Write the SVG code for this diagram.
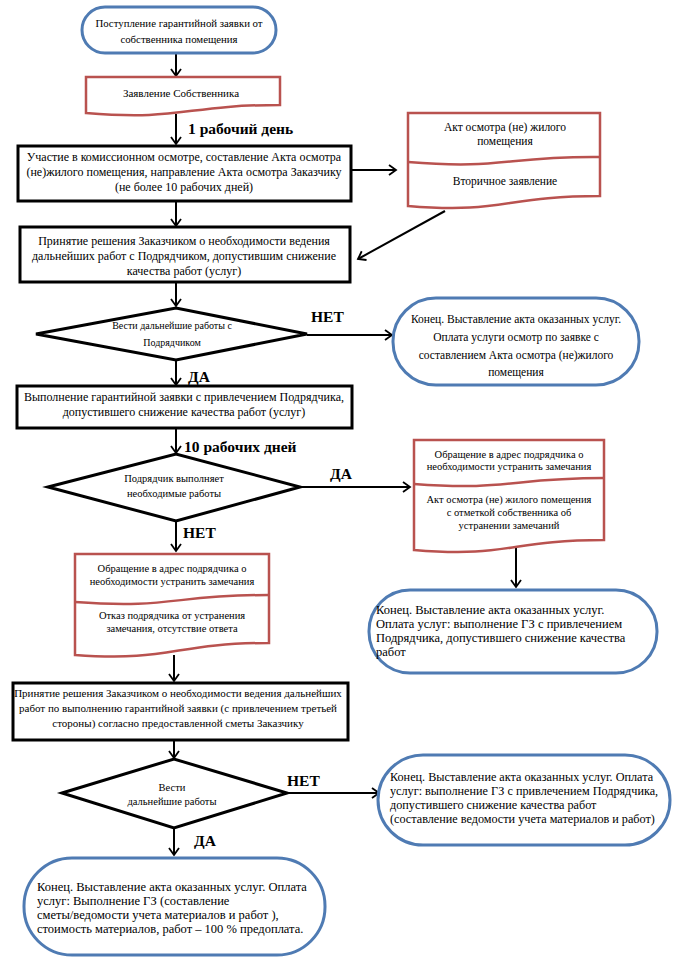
<svg xmlns="http://www.w3.org/2000/svg" width="686" height="967" viewBox="0 0 686 967">
<defs>
<marker id="ah" markerUnits="userSpaceOnUse" markerWidth="14" markerHeight="14" refX="8" refY="6" orient="auto">
<path d="M1,1 L8,6 L1,11" fill="none" stroke="#000" stroke-width="1.8"/>
</marker>
</defs>
<style>
text{font-family:"Liberation Serif","Times New Roman",serif;fill:#000}
.c{text-anchor:middle}
.b{font-weight:bold;font-size:15.5px}
.term{fill:#fff;stroke:#4f7bb3;stroke-width:3}
.doc{fill:#fff;stroke:#b9524f;stroke-width:2.5}
.box{fill:#fff;stroke:#000;stroke-width:3}
.dia{fill:#fff;stroke:#000;stroke-width:3}
.ln{fill:none;stroke:#000;stroke-width:2;marker-end:url(#ah)}
</style>
<rect width="686" height="967" fill="#fff"/>
<g id="connectors">
<line class="ln" x1="176" y1="53" x2="176" y2="76"/>
<line class="ln" x1="176" y1="114" x2="176" y2="144"/>
<line class="ln" x1="351" y1="170" x2="396" y2="170"/>
<line class="ln" x1="445" y1="211" x2="358" y2="259"/>
<line class="ln" x1="176" y1="201" x2="176" y2="226"/>
<line class="ln" x1="176" y1="282" x2="176" y2="306"/>
<line class="ln" x1="307" y1="335" x2="392" y2="335"/>
<line class="ln" x1="176" y1="361" x2="176" y2="385"/>
<line class="ln" x1="176" y1="428" x2="176" y2="453"/>
<line class="ln" x1="300" y1="487" x2="410" y2="487"/>
<line class="ln" x1="176" y1="521" x2="176" y2="551"/>
<line class="ln" x1="516" y1="548" x2="516" y2="587"/>
<line class="ln" x1="174" y1="655" x2="174" y2="681"/>
<line class="ln" x1="174" y1="740" x2="174" y2="758"/>
<line class="ln" x1="287" y1="793" x2="379" y2="793"/>
<line class="ln" x1="174" y1="828" x2="174" y2="855"/>
</g>
<g id="labels">
<text class="b" x="188" y="134">1 рабочий день</text>
<text class="b" x="311" y="322">НЕТ</text>
<text class="b" x="188" y="382">ДА</text>
<text class="b" x="184" y="452">10 рабочих дней</text>
<text class="b" x="330" y="479">ДА</text>
<text class="b" x="183" y="538">НЕТ</text>
<text class="b" x="287" y="786">НЕТ</text>
<text class="b" x="194" y="846">ДА</text>
</g>
<g id="n1">
<rect class="term" x="82" y="7" width="194" height="46" rx="23"/>
<text class="c" x="179" y="27" font-size="10.8">Поступление гарантийной заявки от</text>
<text class="c" x="179" y="43" font-size="10.8">собственника помещения</text>
</g>
<g id="n2">
<path class="doc" d="M86,77 H280 V105 C183,105 183,121 86,113 Z"/>
<text class="c" x="181" y="97" font-size="11">Заявление Собственника</text>
</g>
<g id="n3">
<rect class="box" x="18" y="146" width="333" height="55"/>
<text class="c" x="184" y="161" font-size="12">Участие в комиссионном осмотре, составление Акта осмотра</text>
<text class="c" x="184" y="176" font-size="12">(не)жилого помещения, направление Акта осмотра Заказчику</text>
<text class="c" x="184" y="191" font-size="12">(не более 10 рабочих дней)</text>
</g>
<g id="n4">
<path class="doc" d="M408,113 H600 V196 C504,196 504,214 408,206 Z"/>
<path class="doc" fill="none" d="M408,162 C504,170 504,156 600,157"/>
<text class="c" x="505" y="131" font-size="11.5">Акт осмотра (не) жилого</text>
<text class="c" x="505" y="145" font-size="11.5">помещения</text>
<text class="c" x="505" y="185" font-size="11.5">Вторичное заявление</text>
</g>
<g id="n5">
<rect class="box" x="20" y="227" width="330" height="55"/>
<text class="c" x="184" y="245" font-size="12">Принятие решения Заказчиком о необходимости ведения</text>
<text class="c" x="184" y="260" font-size="12">дальнейших работ с Подрядчиком, допустившим снижение</text>
<text class="c" x="184" y="275" font-size="12">качества работ (услуг)</text>
</g>
<g id="n6">
<polygon class="dia" points="36,334 176,308 307,334 176,360"/>
<text class="c" x="172" y="329" font-size="10">Вести дальнейшие работы с</text>
<text class="c" x="172" y="346" font-size="10">Подрядчиком</text>
</g>
<g id="n7">
<rect class="term" x="393" y="298" width="246" height="87" rx="43"/>
<text class="c" x="516" y="323" font-size="11.5">Конец. Выставление акта оказанных услуг.</text>
<text class="c" x="516" y="341" font-size="11.5">Оплата услуги осмотр по заявке с</text>
<text class="c" x="516" y="359" font-size="11.5">составлением Акта осмотра (не)жилого</text>
<text class="c" x="516" y="376" font-size="11.5">помещения</text>
</g>
<g id="n8">
<rect class="box" x="17" y="386" width="335" height="42"/>
<text class="c" x="184" y="401" font-size="12">Выполнение гарантийной заявки с привлечением Подрядчика,</text>
<text class="c" x="184" y="416" font-size="12">допустившего снижение качества работ (услуг)</text>
</g>
<g id="n9">
<polygon class="dia" points="48,487 176,454 300,487 176,521"/>
<text class="c" x="174" y="482" font-size="10.5">Подрядчик выполняет</text>
<text class="c" x="174" y="497" font-size="10.5">необходимые работы</text>
</g>
<g id="n10">
<path class="doc" d="M414,440 H604 V540 C509,540 509,558 414,550 Z"/>
<path class="doc" fill="none" d="M414,484 C509,491 509,478 604,478"/>
<text class="c" x="509" y="458" font-size="10.5">Обращение в адрес подрядчика о</text>
<text class="c" x="509" y="470" font-size="10.5">необходимости устранить замечания</text>
<text class="c" x="509" y="503" font-size="10.5">Акт осмотра (не) жилого помещения</text>
<text class="c" x="509" y="516" font-size="10.5">с отметкой собственника об</text>
<text class="c" x="509" y="529" font-size="10.5">устранении замечаний</text>
</g>
<g id="n11">
<rect class="term" x="369" y="590" width="288" height="83" rx="41"/>
<text x="376" y="614" font-size="12.5">Конец. Выставление акта оказанных услуг.</text>
<text x="376" y="628" font-size="12.5">Оплата услуг: выполнение ГЗ с привлечением</text>
<text x="376" y="642" font-size="12.5">Подрядчика, допустившего снижение качества</text>
<text x="376" y="656" font-size="12.5">работ</text>
</g>
<g id="n12">
<path class="doc" d="M75,554 H269 V643 C172,643 172,662 75,655 Z"/>
<path class="doc" fill="none" d="M75,602 C172,609 172,595 269,595"/>
<text class="c" x="172" y="572" font-size="10.5">Обращение в адрес подрядчика о</text>
<text class="c" x="172" y="585" font-size="10.5">необходимости устранить замечания</text>
<text class="c" x="172" y="619" font-size="10.5">Отказ подрядчика от устранения</text>
<text class="c" x="172" y="632" font-size="10.5">замечания, отсутствие ответа</text>
</g>
<g id="n13">
<rect class="box" x="13" y="683" width="335" height="57"/>
<text class="c" x="178" y="697" font-size="11">Принятие решения Заказчиком о необходимости ведения дальнейших</text>
<text class="c" x="178" y="712" font-size="11">работ по выполнению гарантийной заявки (с привлечением третьей</text>
<text class="c" x="178" y="727" font-size="11">стороны) согласно предоставленной сметы Заказчику</text>
</g>
<g id="n14">
<polygon class="dia" points="62,793 174,759 287,793 174,828"/>
<text class="c" x="172" y="791" font-size="10.5">Вести</text>
<text class="c" x="172" y="805" font-size="10.5">дальнейшие работы</text>
</g>
<g id="n15">
<rect class="term" x="378" y="755" width="292" height="90" rx="45"/>
<text x="390" y="781" font-size="12.2">Конец. Выставление акта оказанных услуг. Оплата</text>
<text x="390" y="795" font-size="12.2">услуг: выполнение ГЗ с привлечением Подрядчика,</text>
<text x="390" y="809" font-size="12.2">допустившего снижение качества работ</text>
<text x="390" y="823" font-size="12.2">(составление ведомости учета материалов и  работ)</text>
</g>
<g id="n16">
<rect class="term" x="24" y="858" width="301" height="97" rx="48"/>
<text x="37" y="891" font-size="12.5">Конец. Выставление акта оказанных услуг. Оплата</text>
<text x="37" y="905" font-size="12.5">услуг: Выполнение ГЗ (составление</text>
<text x="37" y="919" font-size="12.5">сметы/ведомости учета материалов и  работ ),</text>
<text x="37" y="933" font-size="12.5">стоимость материалов, работ – 100 % предоплата.</text>
</g>
</svg>
